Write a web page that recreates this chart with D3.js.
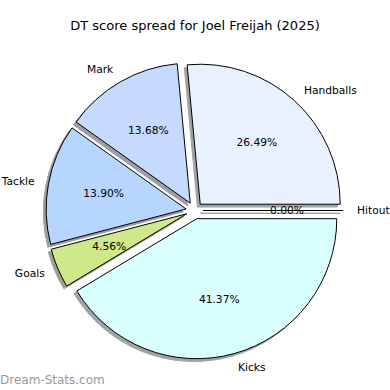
<!DOCTYPE html>
<html>
<head>
<meta charset="utf-8">
<script src="https://cdn.jsdelivr.net/npm/d3@7"></script>
<style>
  body { margin: 0; background: #fff; }
  text { font-family: "DejaVu Sans", sans-serif; }
</style>
</head>
<body>
<div id="chart"></div>
<script>
var categories = ['Handballs', 'Mark', 'Tackle', 'Goals', 'Kicks', 'Hitout'];
var values     = [26.49, 13.68, 13.90, 4.56, 41.37, 0.00];
var colors     = ['#e9f1ff', '#c6d9ff', '#b6d6ff', '#cfe98a', '#d9ffff', '#e0e0e0'];

var width = 390, height = 390;
var cx = 194.5, cy = 210.5;
var radius = 140;
var explode = 8.5;
var shadowOff = 2.8;

var total = d3.sum(values);

var dataPie = categories.map(function(c, i) {
    return { name: c, amount: values[i], color: colors[i] };
});

// matplotlib style: counterclockwise from 3 o'clock
var pie = d3.pie()
    .sort(null)
    .value(function(d) { return d.amount; })
    .startAngle(Math.PI / 2)
    .endAngle(Math.PI / 2 - 2 * Math.PI);

var arc = d3.arc().innerRadius(0).outerRadius(radius);

var slices = pie(dataPie);

function midAngle(d) { return (d.startAngle + d.endAngle) / 2; }
function offset(d, r) {
    var a = midAngle(d);
    return [r * Math.sin(a), -r * Math.cos(a)];
}

var svg = d3.select('#chart')
    .append("svg")
    .attr("width", width)
    .attr("height", height);

svg.append("text")
    .attr("x", 195)
    .attr("y", 25)
    .attr("text-anchor", "middle")
    .attr("dominant-baseline", "central")
    .attr("font-size", "13px")
    .attr("fill", "#000")
    .text("DT score spread for Joel Freijah (2025)");

var g = svg.append("g")
    .attr("transform", "translate(" + cx + "," + cy + ")");

// shadows first, behind every wedge
g.selectAll(".shadow")
    .data(slices)
    .enter().append("path")
    .attr("class", "shadow")
    .attr("d", arc)
    .attr("transform", function(d) {
        var o = offset(d, explode);
        return "translate(" + (o[0] - shadowOff) + "," + (o[1] + shadowOff) + ")";
    })
    .attr("fill", function(d) {
        var c = d3.rgb(d.data.color);
        return d3.rgb(c.r * 0.3, c.g * 0.3, c.b * 0.3);
    })
    .attr("stroke", function(d) {
        var c = d3.rgb(d.data.color);
        return d3.rgb(c.r * 0.3, c.g * 0.3, c.b * 0.3);
    })
    .attr("opacity", 0.5)
    .attr("stroke-width", 1);

g.selectAll(".wedge")
    .data(slices)
    .enter().append("path")
    .attr("class", "wedge")
    .attr("d", arc)
    .attr("transform", function(d) {
        var o = offset(d, explode);
        return "translate(" + o[0] + "," + o[1] + ")";
    })
    .attr("fill", function(d) { return d.data.color; })
    .attr("stroke", "#000")
    .attr("stroke-width", 1)
    .attr("stroke-linejoin", "miter");

// category labels at 1.1 r
g.selectAll(".label")
    .data(slices)
    .enter().append("text")
    .attr("class", "label")
    .attr("x", function(d) { return offset(d, explode + radius * 1.1)[0]; })
    .attr("y", function(d) { return offset(d, explode + radius * 1.1)[1]; })
    .attr("text-anchor", function(d) { return Math.sin(midAngle(d)) > 0 ? "start" : "end"; })
    .attr("dominant-baseline", "central")
    .attr("font-size", "10.7px")
    .attr("fill", "#000")
    .text(function(d) { return d.data.name; });

// percentages at 0.6 r
g.selectAll(".pct")
    .data(slices)
    .enter().append("text")
    .attr("class", "pct")
    .attr("x", function(d) { return offset(d, explode + radius * 0.6)[0]; })
    .attr("y", function(d) { return offset(d, explode + radius * 0.6)[1]; })
    .attr("text-anchor", "middle")
    .attr("dominant-baseline", "central")
    .attr("font-size", "10.7px")
    .attr("fill", "#000")
    .text(function(d) { return (d.data.amount / total * 100).toFixed(2) + "%"; });

svg.append("text")
    .attr("x", 0)
    .attr("y", 380)
    .attr("dominant-baseline", "central")
    .attr("font-size", "12px")
    .attr("fill", "#999")
    .text("Dream-Stats.com");
</script>
</body>
</html>
